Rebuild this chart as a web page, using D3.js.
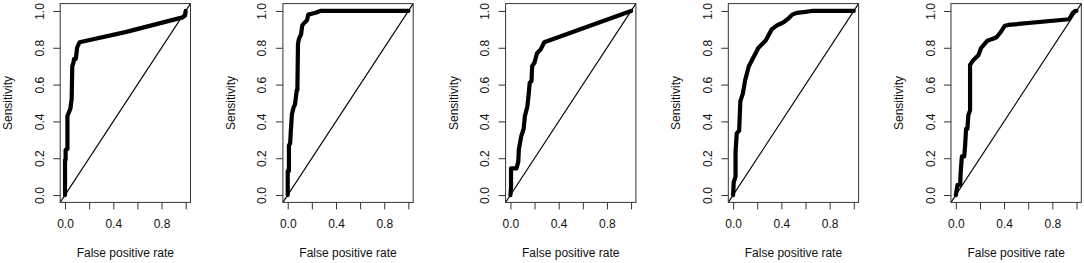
<!DOCTYPE html>
<html>
<head>
<meta charset="utf-8">
<script src="https://cdn.jsdelivr.net/npm/d3@7"></script>
<style>
  body { margin: 0; background: #fff; }
  svg text { font-family: "Liberation Sans", Arial, sans-serif; }
</style>
</head>
<body>
<div id="container"></div>
<script>
let w = 1084;
let h = 263;

// ROC curves, one pair of arrays per panel
let fpr1 = [0, 0, 0.005, 0.005, 0.02, 0.02, 0.045, 0.05, 0.055, 0.06, 0.07, 0.075, 0.09, 0.10, 0.12, 0.5, 0.975, 0.995, 1.0];
let tpr1 = [0, 0.19, 0.19, 0.245, 0.25, 0.43, 0.47, 0.50, 0.52, 0.70, 0.72, 0.74, 0.74, 0.80, 0.83, 0.885, 0.965, 0.975, 1.0];

let fpr2 = [0, 0, 0.01, 0.01, 0.02, 0.025, 0.035, 0.05, 0.06, 0.075, 0.08, 0.085, 0.09, 0.10, 0.11, 0.12, 0.13, 0.16, 0.17, 0.23, 0.27, 1.0];
let tpr2 = [0, 0.13, 0.13, 0.27, 0.28, 0.34, 0.44, 0.48, 0.49, 0.57, 0.57, 0.82, 0.84, 0.86, 0.87, 0.92, 0.93, 0.95, 0.98, 0.99, 1.0, 1.0];

let fpr3 = [0, 0.005, 0.005, 0.05, 0.065, 0.07, 0.09, 0.11, 0.12, 0.14, 0.15, 0.16, 0.175, 0.18, 0.2, 0.22, 0.25, 0.28, 1.0];
let tpr3 = [0, 0.04, 0.145, 0.145, 0.18, 0.25, 0.32, 0.36, 0.43, 0.48, 0.54, 0.61, 0.62, 0.70, 0.72, 0.77, 0.79, 0.83, 1.0];

let fpr4 = [0, 0.005, 0.02, 0.02, 0.03, 0.05, 0.06, 0.08, 0.1, 0.13, 0.17, 0.21, 0.27, 0.32, 0.36, 0.42, 0.46, 0.49, 0.53, 0.6, 0.65, 1.0];
let tpr4 = [0, 0.07, 0.1, 0.23, 0.335, 0.35, 0.51, 0.55, 0.625, 0.70, 0.75, 0.80, 0.84, 0.90, 0.92, 0.94, 0.96, 0.98, 0.99, 0.995, 1.0, 1.0];

let fpr5 = [0, 0.005, 0.014, 0.036, 0.04, 0.05, 0.07, 0.077, 0.085, 0.096, 0.104, 0.118, 0.118, 0.146, 0.187, 0.21, 0.264, 0.297, 0.338, 0.366, 0.407, 0.434, 0.94, 0.97, 0.99, 1.0];
let tpr5 = [0, 0.02, 0.055, 0.055, 0.12, 0.21, 0.21, 0.27, 0.36, 0.36, 0.435, 0.46, 0.707, 0.734, 0.76, 0.80, 0.84, 0.846, 0.857, 0.88, 0.92, 0.924, 0.955, 0.99, 1.0, 1.0];

let panels = [[fpr1, tpr1], [fpr2, tpr2], [fpr3, tpr3], [fpr4, tpr4], [fpr5, tpr5]];

let tickValues = [0, 0.2, 0.4, 0.6, 0.8, 1.0];
let xLabelValues = [0, 0.4, 0.8];

let panelStep = 222.7;
let boxLeft = 60.2, boxRight = 190.5, boxTop = 3.6, boxBottom = 202.4;

let viz = d3.select("#container")
  .append("svg")
  .attr("width", w)
  .attr("height", h)
  .style("background-color", "white");

// R style: data range padded by 4% on each side
let xScale = d3.scaleLinear().domain([-0.04, 1.04]).range([boxLeft, boxRight]);
let yScale = d3.scaleLinear().domain([-0.04, 1.04]).range([boxBottom, boxTop]);

panels.forEach((p, i) => {
  let g = viz.append("g")
    .attr("transform", `translate(${i * panelStep}, 0)`);

  // diagonal reference line (abline 0,1), spans whole plot region
  let dom = xScale.domain();
  g.append("line")
    .attr("x1", xScale(dom[0])).attr("y1", yScale(dom[0]))
    .attr("x2", xScale(dom[1])).attr("y2", yScale(dom[1]))
    .attr("stroke", "#000")
    .attr("stroke-width", 1.1);

  // ROC curve
  let pts = p[0].map((f, j) => [f, p[1][j]]);
  let line = d3.line().x(d => xScale(d[0])).y(d => yScale(d[1]));
  g.append("path")
    .datum(pts)
    .attr("d", line)
    .attr("fill", "none")
    .attr("stroke", "#000")
    .attr("stroke-width", 4.2)
    .attr("stroke-linejoin", "round")
    .attr("stroke-linecap", "round");

  // box
  g.append("rect")
    .attr("x", boxLeft).attr("y", boxTop)
    .attr("width", boxRight - boxLeft).attr("height", boxBottom - boxTop)
    .attr("fill", "none")
    .attr("stroke", "#333")
    .attr("stroke-width", 1);

  // x axis
  let xAxis = g.append("g")
    .attr("transform", `translate(0, ${boxBottom})`)
    .call(d3.axisBottom(xScale)
      .tickValues(tickValues)
      .tickSize(7)
      .tickFormat(d => xLabelValues.includes(d) ? d3.format(".1f")(d) : ""));
  xAxis.select(".domain").remove();
  xAxis.selectAll(".tick line").attr("stroke", "#333");
  xAxis.selectAll(".tick text")
    .attr("y", 25.6)
    .attr("dy", 0)
    .attr("font-size", "12px")
    .attr("font-family", "Liberation Sans, Arial, sans-serif")
    .attr("fill", "#111");

  // y axis
  let yAxis = g.append("g")
    .attr("transform", `translate(${boxLeft}, 0)`)
    .call(d3.axisLeft(yScale)
      .tickValues(tickValues)
      .tickSize(7)
      .tickFormat(d3.format(".1f")));
  yAxis.select(".domain").remove();
  yAxis.selectAll(".tick line").attr("stroke", "#333");
  yAxis.selectAll(".tick text")
    .attr("x", 0)
    .attr("dy", 0)
    .attr("transform", "translate(-16.5, 0) rotate(-90)")
    .attr("text-anchor", "middle")
    .attr("font-size", "12px")
    .attr("font-family", "Liberation Sans, Arial, sans-serif")
    .attr("fill", "#111");

  // axis titles
  g.append("text")
    .text("False positive rate")
    .attr("x", (boxLeft + boxRight) / 2)
    .attr("y", 257)
    .attr("text-anchor", "middle")
    .attr("font-size", "12px")
    .attr("fill", "#111");

  g.append("text")
    .text("Sensitivity")
    .attr("transform", `translate(${boxLeft - 48}, ${(boxTop + boxBottom) / 2}) rotate(-90)`)
    .attr("text-anchor", "middle")
    .attr("font-size", "12px")
    .attr("fill", "#111");
});
</script>
</body>
</html>
